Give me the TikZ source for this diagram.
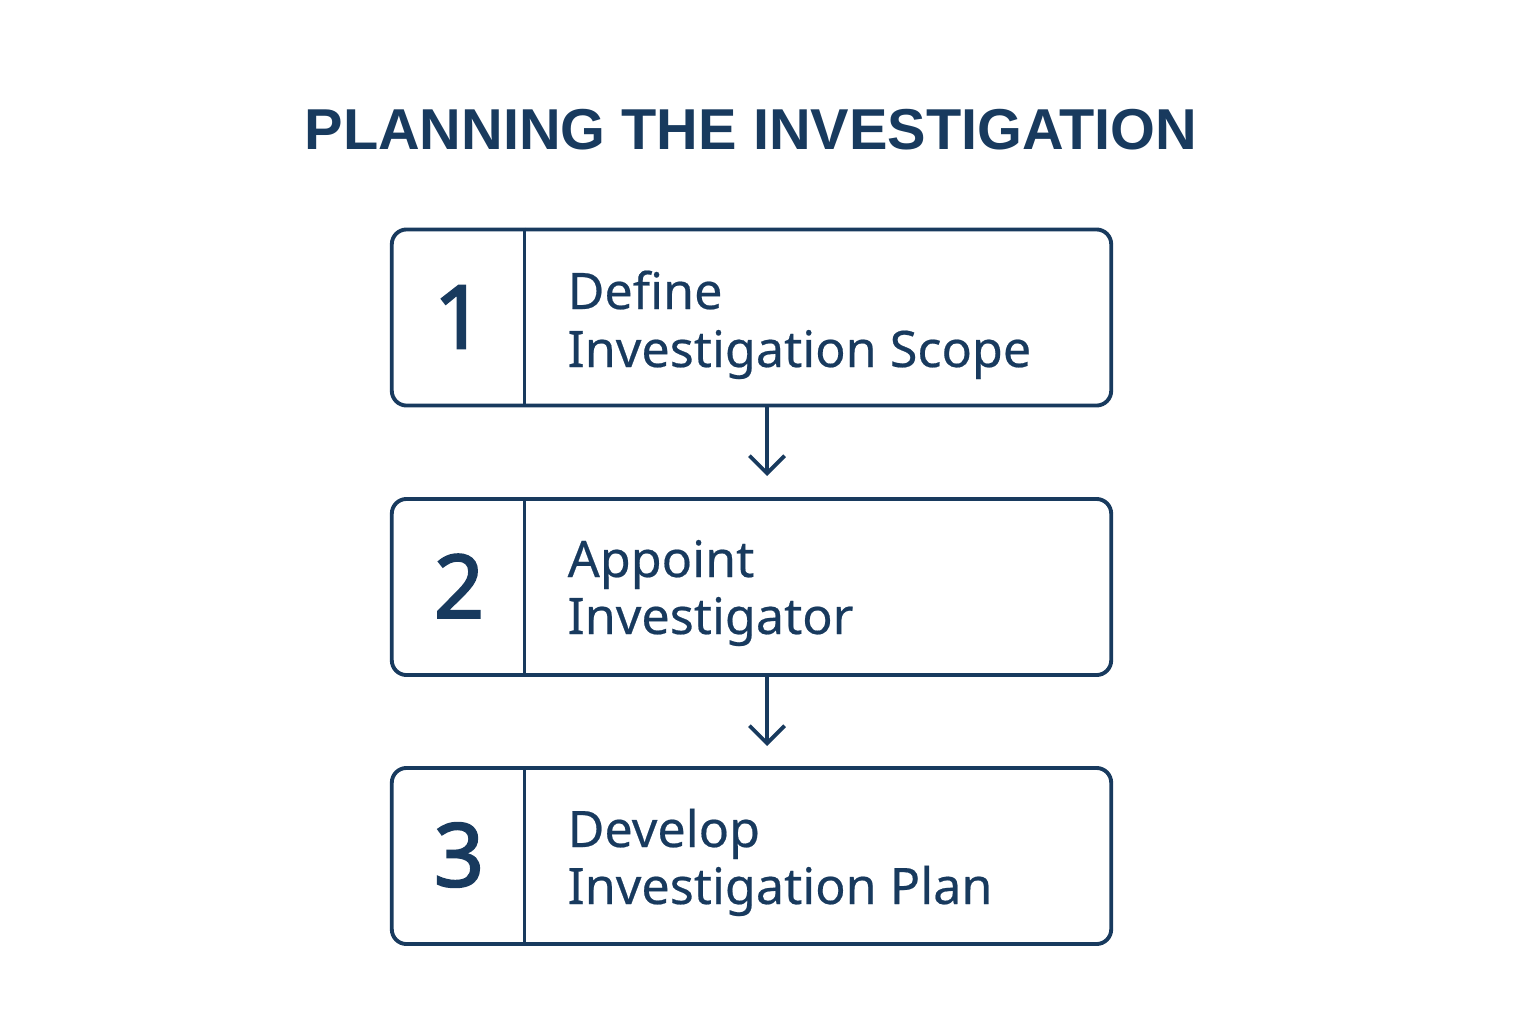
\documentclass[tikz,border=0pt]{standalone}
\usepackage{fontspec}
\setmainfont{Noto Sans}
\newfontfamily\titlefont{Liberation Sans}
\newfontfamily\numfont{Noto Sans}[FakeBold=2.2]
\newfontfamily\bodyfont{Noto Sans}[FakeBold=0.4]
\usetikzlibrary{arrows.meta}
\definecolor{navy}{HTML}{183A5E}
\begin{document}
\begin{tikzpicture}[x=0.01cm,y=-0.01cm,
  stepbox/.style={draw=navy,line width=1.1pt,rounded corners=4.2pt,minimum width=7.19cm,minimum height=1.76cm,inner sep=0pt},
  numtxt/.style={text=navy,font=\numfont\fontsize{25}{25}\selectfont},
  bodytxt/.style={text=navy,font=\bodyfont\fontsize{14.3}{16}\selectfont,anchor=base west,inner sep=0pt},
  divider/.style={draw=navy,line width=1.1pt},
  flow/.style={draw=navy,line width=1.1pt,-{Straight Barb[length=5pt,width=10pt,line width=1.1pt]}}]
\useasboundingbox (0,0) rectangle (1536,1024);
\node[text=navy,font=\titlefont\fontsize{16.4}{18}\selectfont\bfseries] (title) at (751,130) {PLANNING THE INVESTIGATION};
% boxes
\node[stepbox] (b1) at (751.5,317.5) {};
\node[stepbox] (b2) at (751.5,587) {};
\node[stepbox] (b3) at (751.5,856) {};
\foreach \b in {b1,b2,b3}{
  \draw[divider] ([xshift=1.345cm]\b.north west) -- ([xshift=1.345cm]\b.south west);
}
\node[numtxt] (n1) at (459,317) {1};
\node[numtxt] (n2) at (459,586) {2};
\node[numtxt] (n3) at (459,855) {3};
\node[bodytxt] (t1a) at (567,309) {Define};
\node[bodytxt] (t1b) at (567,367) {Investigation Scope};
\node[bodytxt] (t2a) at (567,577) {Appoint};
\node[bodytxt] (t2b) at (567,634) {Investigator};
\node[bodytxt] (t3a) at (567,847) {Develop};
\node[bodytxt] (t3b) at (567,904) {Investigation Plan};
% arrows
\coordinate (a1s) at (767,406);
\coordinate (a1e) at (767,476);
\coordinate (a2s) at (767,675);
\coordinate (a2e) at (767,746);
\draw[flow] (a1s) -- (a1e);
\draw[flow] (a2s) -- (a2e);
\end{tikzpicture}
\end{document}
